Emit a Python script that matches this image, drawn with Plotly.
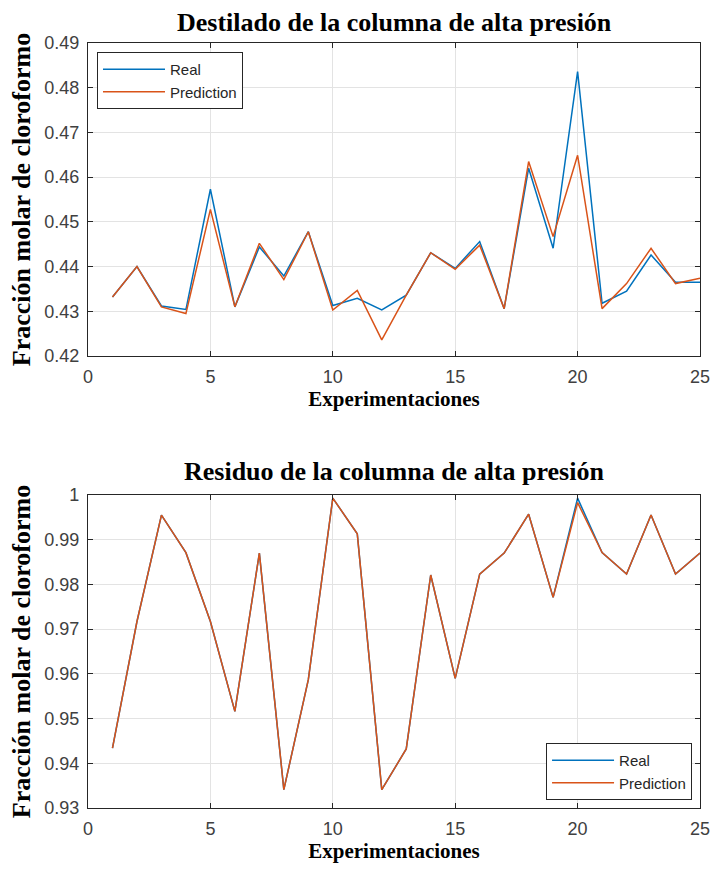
import plotly.graph_objects as go

experimentos = list(range(1, 26))

destilado_real = [0.4332, 0.4400, 0.4312, 0.4304, 0.4573, 0.4310, 0.4444, 0.4379, 0.4478, 0.4313,
                  0.4329, 0.4303, 0.4336, 0.4431, 0.4396, 0.4456, 0.4306, 0.4620, 0.4441, 0.4836,
                  0.4318, 0.4345, 0.4426, 0.4365, 0.4365]
destilado_pred = [0.4332, 0.4400, 0.4310, 0.4295, 0.4528, 0.4310, 0.4452, 0.4371, 0.4478, 0.4303,
                  0.4347, 0.4236, 0.4336, 0.4431, 0.4394, 0.4448, 0.4306, 0.4635, 0.4467, 0.4649,
                  0.4306, 0.4362, 0.4441, 0.4362, 0.4374]

residuo_real = [0.9434, 0.9717, 0.9955, 0.9871, 0.9717, 0.9516, 0.9870, 0.9341, 0.9587, 0.9993,
                0.9913, 0.9341, 0.9432, 0.9821, 0.9590, 0.9823, 0.9870, 0.9957, 0.9771, 0.9993,
                0.9871, 0.9823, 0.9955, 0.9823, 0.9870]
residuo_pred = [0.9434, 0.9717, 0.9955, 0.9871, 0.9717, 0.9516, 0.9870, 0.9341, 0.9587, 0.9993,
                0.9913, 0.9341, 0.9432, 0.9821, 0.9590, 0.9823, 0.9870, 0.9957, 0.9771, 0.9983,
                0.9871, 0.9823, 0.9955, 0.9823, 0.9870]

x_ticks = [0, 5, 10, 15, 20, 25]
y_ticks_top = [0.42, 0.43, 0.44, 0.45, 0.46, 0.47, 0.48, 0.49]
y_ticks_bot = [0.93, 0.94, 0.95, 0.96, 0.97, 0.98, 0.99, 1.0]

titulo_top = "Destilado de la columna de alta presión"
titulo_bot = "Residuo de la columna de alta presión"
x_label = "Experimentaciones"
y_label = "Fracción molar de cloroformo"

BLUE = "#0072BD"
ORANGE = "#D95319"
AX = "#262626"
GRID = "#e3e3e3"
SERIF = "Liberation Serif, Times New Roman, serif"
SANS = "Liberation Sans, Arial, sans-serif"

fig = go.Figure()
fig.add_trace(go.Scatter(x=experimentos, y=destilado_real, name="Real", mode="lines",
                         line=dict(color=BLUE, width=1.5), xaxis="x", yaxis="y", legend="legend"))
fig.add_trace(go.Scatter(x=experimentos, y=destilado_pred, name="Prediction", mode="lines",
                         line=dict(color=ORANGE, width=1.5), xaxis="x", yaxis="y", legend="legend"))
fig.add_trace(go.Scatter(x=experimentos, y=residuo_real, name="Real", mode="lines",
                         line=dict(color=BLUE, width=1.5), xaxis="x2", yaxis="y2", legend="legend2"))
fig.add_trace(go.Scatter(x=experimentos, y=residuo_pred, name="Prediction", mode="lines",
                         line=dict(color=ORANGE, width=1.5), xaxis="x2", yaxis="y2", legend="legend2"))

def xax(anchor):
    return dict(anchor=anchor, range=[0, 25], tickvals=x_ticks, ticks="inside", ticklen=5,
                tickcolor=AX, tickwidth=1, showline=True, linecolor=AX, linewidth=1.3,
                mirror="ticks", showgrid=True, gridcolor=GRID, gridwidth=1, zeroline=False,
                automargin=False, ticklabelstandoff=4,
                tickfont=dict(family=SANS, size=18, color="#404040"),
                title=dict(text=f"<b>{x_label}</b>", font=dict(family=SERIF, size=21, color="black"),
                           standoff=3))

def yax(anchor, dom, rng, tv, fmt):
    return dict(anchor=anchor, domain=dom, range=rng, tickvals=tv, ticktext=[fmt(v) for v in tv],
                ticks="inside", ticklen=5, tickcolor=AX, tickwidth=1, showline=True, linecolor=AX,
                linewidth=1.3, mirror="ticks", showgrid=True, gridcolor=GRID, gridwidth=1,
                zeroline=False, ticklabelstandoff=4, automargin=False,
                tickfont=dict(family=SANS, size=18, color="#404040"),
                title=dict(text=f"<b>{y_label}</b>", font=dict(family=SERIF, size=26, color="black"),
                           standoff=6))

def fmt(v):
    s = f"{v:.2f}"
    return "1" if abs(v - 1) < 1e-9 else s

legend_common = dict(bgcolor="white", bordercolor=AX, borderwidth=1,
                     font=dict(family=SANS, size=15, color="#262626"),
                     itemwidth=62, tracegroupgap=0)

fig.update_layout(
    width=711, height=869,
    margin=dict(l=88, r=11, t=43, b=61, autoexpand=False),
    paper_bgcolor="white", plot_bgcolor="white",
    xaxis=xax("y"),
    yaxis=yax("x", [0.5908, 1.0], [0.42, 0.49], y_ticks_top, fmt),
    xaxis2=xax("y2"),
    yaxis2=yax("x2", [0.0, 0.4092], [0.93, 1.0], y_ticks_bot, fmt),
    legend=dict(x=0.0147, y=0.9882, xanchor="left", yanchor="top", **legend_common),
    legend2=dict(x=0.987, y=0.0105, xanchor="right", yanchor="bottom", **legend_common),
    annotations=[
        dict(text=f"<b>{titulo_top}</b>", x=0.5, y=1.0, xref="paper", yref="paper",
             xanchor="center", yanchor="bottom", yshift=4, showarrow=False,
             font=dict(family=SERIF, size=26, color="black")),
        dict(text=f"<b>{titulo_bot}</b>", x=0.5, y=0.4092, xref="paper", yref="paper",
             xanchor="center", yanchor="bottom", yshift=7, showarrow=False,
             font=dict(family=SERIF, size=26, color="black")),
    ],
    showlegend=True,
)

fig.write_html(
    "out.html",
    config={"displayModeBar": False},
    post_script="document.documentElement.style.margin='0';document.body.style.margin='0';"
                "document.documentElement.style.overflow='hidden';document.body.style.overflow='hidden';",
)
